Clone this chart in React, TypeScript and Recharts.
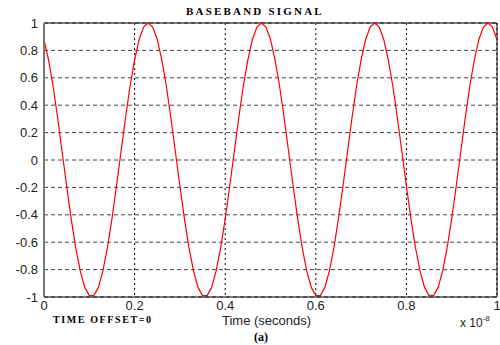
import React from 'react'
import { LineChart, Line, XAxis, YAxis, CartesianGrid, ReferenceLine } from 'recharts'

// time axis, in units of 1e-8 s
const timeSteps = [
  0, 0.01, 0.02, 0.03, 0.04, 0.05, 0.06, 0.07, 0.08, 0.09,
  0.1, 0.11, 0.12, 0.13, 0.14, 0.15, 0.16, 0.17, 0.18, 0.19,
  0.2, 0.21, 0.22, 0.23, 0.24, 0.25, 0.26, 0.27, 0.28, 0.29,
  0.3, 0.31, 0.32, 0.33, 0.34, 0.35, 0.36, 0.37, 0.38, 0.39,
  0.4, 0.41, 0.42, 0.43, 0.44, 0.45, 0.46, 0.47, 0.48, 0.49,
  0.5, 0.51, 0.52, 0.53, 0.54, 0.55, 0.56, 0.57, 0.58, 0.59,
  0.6, 0.61, 0.62, 0.63, 0.64, 0.65, 0.66, 0.67, 0.68, 0.69,
  0.7, 0.71, 0.72, 0.73, 0.74, 0.75, 0.76, 0.77, 0.78, 0.79,
  0.8, 0.81, 0.82, 0.83, 0.84, 0.85, 0.86, 0.87, 0.88, 0.89,
  0.9, 0.91, 0.92, 0.93, 0.94, 0.95, 0.96, 0.97, 0.98, 0.99,
  1,
]

// signal amplitude
const signal = [
  0.88, 0.73, 0.54, 0.31, 0.06, -0.19, -0.43, -0.64, -0.81, -0.93,
  -0.99, -0.99, -0.93, -0.81, -0.64, -0.43, -0.19, 0.06, 0.31, 0.54,
  0.73, 0.88, 0.97, 1.0, 0.97, 0.88, 0.73, 0.54, 0.31, 0.06,
  -0.19, -0.43, -0.64, -0.81, -0.93, -0.99, -0.99, -0.93, -0.81, -0.64,
  -0.43, -0.19, 0.06, 0.31, 0.54, 0.73, 0.88, 0.97, 1.0, 0.97,
  0.88, 0.73, 0.54, 0.31, 0.06, -0.19, -0.43, -0.64, -0.81, -0.93,
  -0.99, -0.99, -0.93, -0.81, -0.64, -0.43, -0.19, 0.06, 0.31, 0.54,
  0.73, 0.88, 0.97, 1.0, 0.97, 0.88, 0.73, 0.54, 0.31, 0.06,
  -0.19, -0.43, -0.64, -0.81, -0.93, -0.99, -0.99, -0.93, -0.81, -0.64,
  -0.43, -0.19, 0.06, 0.31, 0.54, 0.73, 0.88, 0.97, 1.0, 0.97,
  0.88,
]

const xTicks = [0, 0.2, 0.4, 0.6, 0.8, 1]
const yTicks = [-1, -0.8, -0.6, -0.4, -0.2, 0, 0.2, 0.4, 0.6, 0.8, 1]

const data = timeSteps.map((t, i) => ({ t, v: signal[i] }))

const serifBold = {
  fontFamily: '"Liberation Serif", serif',
  fontWeight: 'bold' as const,
  color: '#000',
  position: 'absolute' as const,
  whiteSpace: 'nowrap' as const,
}
const sans = {
  fontFamily: '"Liberation Sans", Arial, sans-serif',
  color: '#222',
  position: 'absolute' as const,
  whiteSpace: 'nowrap' as const,
}
const tickStyle = { fontSize: 13, fill: '#222', fontFamily: '"Liberation Sans", Arial, sans-serif' }

export default function App() {
  return (
    <div style={{ position: 'absolute', left: 0, top: 0, width: 500, height: 345, background: '#fff' }}>
      <LineChart
        width={500}
        height={345}
        data={data}
        margin={{ top: 23, right: 3, bottom: 0, left: 0 }}
      >
        <CartesianGrid horizontal={false} stroke="#000" strokeDasharray="2 3" />
        <CartesianGrid vertical={false} stroke="#444" strokeDasharray="4 3" />
        <XAxis
          dataKey="t"
          type="number"
          domain={[0, 1]}
          ticks={xTicks}
          height={48}
          tickSize={0}
          tickMargin={4}
          interval={0}
          axisLine={{ stroke: '#000', strokeWidth: 1 }}
          tick={tickStyle}
        />
        <YAxis
          type="number"
          domain={[-1, 1]}
          ticks={yTicks}
          width={44}
          tickSize={0}
          tickMargin={6}
          interval={0}
          axisLine={{ stroke: '#777', strokeWidth: 2 }}
          tick={tickStyle}
        />
        <ReferenceLine y={1} stroke="#000" strokeWidth={1} />
        <ReferenceLine x={1} stroke="#000" strokeWidth={1} />
        <Line
          dataKey="v"
          type="linear"
          stroke="#ff0000"
          strokeWidth={1.2}
          dot={false}
          isAnimationActive={false}
        />
      </LineChart>
      <div style={{ ...serifBold, left: 186, top: 5, fontSize: 11, letterSpacing: 2.2 }}>BASEBAND SIGNAL</div>
      <div style={{ ...sans, left: 222, top: 313, fontSize: 13 }}>Time (seconds)</div>
      <div style={{ ...serifBold, left: 53, top: 314, fontSize: 10, letterSpacing: 1.6 }}>TIME OFFSET=0</div>
      <div style={{ ...serifBold, left: 254, top: 330, fontSize: 12 }}>(a)</div>
      <div style={{ ...sans, left: 460, top: 316, fontSize: 12 }}>
        x 10<span style={{ fontSize: 8, position: 'relative', top: -6 }}>-8</span>
      </div>
    </div>
  )
}
